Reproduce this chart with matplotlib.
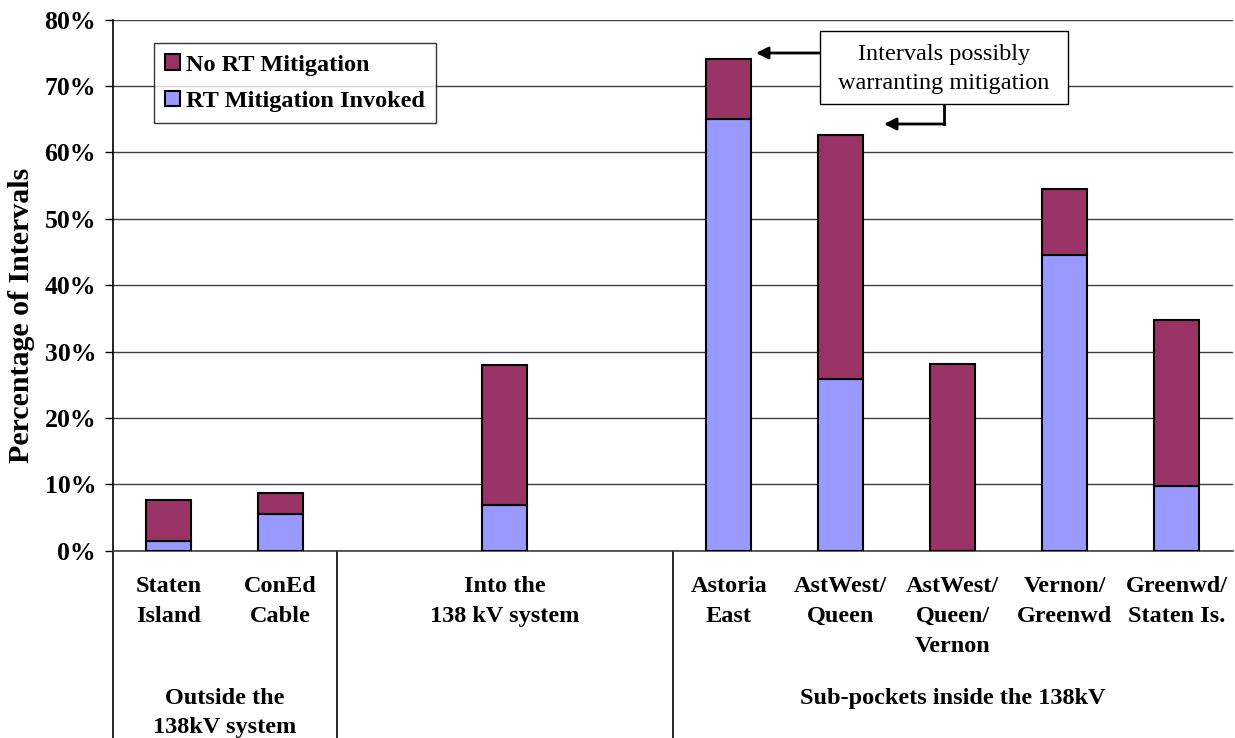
import numpy as np
import matplotlib
matplotlib.use("Agg")
import matplotlib.pyplot as plt
from matplotlib.lines import Line2D
from matplotlib.patches import Rectangle

# datos (porcentaje de intervalos)
categorias = ["Staten\nIsland", "ConEd\nCable", "Into the\n138 kV system",
              "Astoria\nEast", "AstWest/\nQueen", "AstWest/\nQueen/\nVernon",
              "Vernon/\nGreenwd", "Greenwd/\nStaten Is."]
posiciones = [0, 1, 3, 5, 6, 7, 8, 9]   # ranuras del eje (10 ranuras, 2 vacias)
rt_invocada = [1.5, 5.6, 6.9, 65.0, 25.9, 0.0, 44.5, 9.8]
sin_rt = [6.1, 3.1, 21.1, 9.1, 36.7, 28.1, 10.0, 25.0]
grupos = ["Outside the\n138kV system", "Sub-pockets inside the 138kV"]
grupo_centro = [0.5, 7]
separadores = [-0.5, 1.5, 4.5]
ticks_y = [0, 10, 20, 30, 40, 50, 60, 70, 80]

MAROON = "#993366"
AZUL = "#9999FF"
FS = 17.5

plt.rcParams['font.family'] = ['Liberation Serif', 'DejaVu Serif']

W, H = 1235, 738
fig = plt.figure(figsize=(W / 100, H / 100), dpi=100)
x0, x1 = 112.7, 1232.7
y0, y1 = 550.7, 19.6
ax = fig.add_axes([x0 / W, (H - y0) / H, (x1 - x0) / W, (y0 - y1) / H])

ax.bar(posiciones, rt_invocada, width=0.4, color=AZUL, edgecolor="black",
       linewidth=1.5, label="RT Mitigation Invoked", zorder=3)
ax.bar(posiciones, sin_rt, width=0.4, bottom=rt_invocada, color=MAROON,
       edgecolor="black", linewidth=1.5, label="No RT Mitigation", zorder=3)

ax.set_xlim(-0.5, 9.5)
ax.set_ylim(0, 80)
ax.set_yticks(ticks_y)
ax.set_yticklabels([f"{t}%" for t in ticks_y], fontsize=18.5, fontweight="bold")
ax.set_xticks([])
ax.tick_params(axis="y", length=6, width=1, direction="out", pad=6)
ax.yaxis.grid(True, color="#404040", linewidth=1)
ax.set_axisbelow(True)
for s in ["top", "right"]:
    ax.spines[s].set_visible(False)
ax.spines["left"].set_linewidth(1.2)
ax.spines["bottom"].set_linewidth(1.2)
ax.spines["bottom"].set_color("#404040")

fig.text(22 / W, (H - 315) / H, "Percentage of Intervals", rotation=90,
         fontsize=21.5, fontweight="bold", ha="center", va="center")

# etiquetas de categoria (primer nivel)
trans = ax.get_xaxis_transform()
for p, c in zip(posiciones, categorias):
    ax.text(p, -0.048, c, transform=trans, ha="center", va="top",
            fontsize=FS, fontweight="bold", linespacing=1.55)
# etiquetas de grupo (segundo nivel)
for gc, g in zip(grupo_centro, grupos):
    ax.text(gc, -0.258, g, transform=trans, ha="center", va="top",
            fontsize=FS, fontweight="bold", linespacing=1.5)
for s in separadores:
    ax.add_line(Line2D([s, s], [0, -0.36], transform=trans, color="black",
                       linewidth=1.2, clip_on=False))

# leyenda
h, l = ax.get_legend_handles_labels()
leg = ax.legend(h[::-1], l[::-1], loc="upper left", bbox_to_anchor=(0.0371, 0.955),
                prop={"size": FS, "weight": "bold"}, frameon=True, fancybox=False,
                edgecolor="black", handlelength=0.6, handleheight=0.6,
                handletextpad=0.25, labelspacing=0.62, borderpad=0.45,
                borderaxespad=0)
leg.get_frame().set_linewidth(1)

# anotacion con flechas
fig.add_artist(Rectangle((820 / W, (H - 104) / H), 248 / W, 73 / H,
                         transform=fig.transFigure, facecolor="white",
                         edgecolor="black", linewidth=1, zorder=5))
fig.text(944 / W, (H - 69) / H, "Intervals possibly\nwarranting mitigation",
         fontsize=FS, ha="center", va="center", linespacing=1.45, zorder=6)
ax.annotate("", xy=(756, H - 53), xycoords="figure pixels",
            xytext=(820, H - 53), textcoords="figure pixels",
            arrowprops=dict(arrowstyle="-|>", color="black", lw=2,
                            mutation_scale=18, shrinkA=0, shrinkB=0))
fig.add_artist(Line2D([944 / W, 944 / W], [(H - 104) / H, (H - 124) / H],
                      color="black", linewidth=2))
ax.annotate("", xy=(884, H - 124), xycoords="figure pixels",
            xytext=(945, H - 124), textcoords="figure pixels",
            arrowprops=dict(arrowstyle="-|>", color="black", lw=2,
                            mutation_scale=18, shrinkA=0, shrinkB=0))

fig.savefig("out.png", dpi=100)
